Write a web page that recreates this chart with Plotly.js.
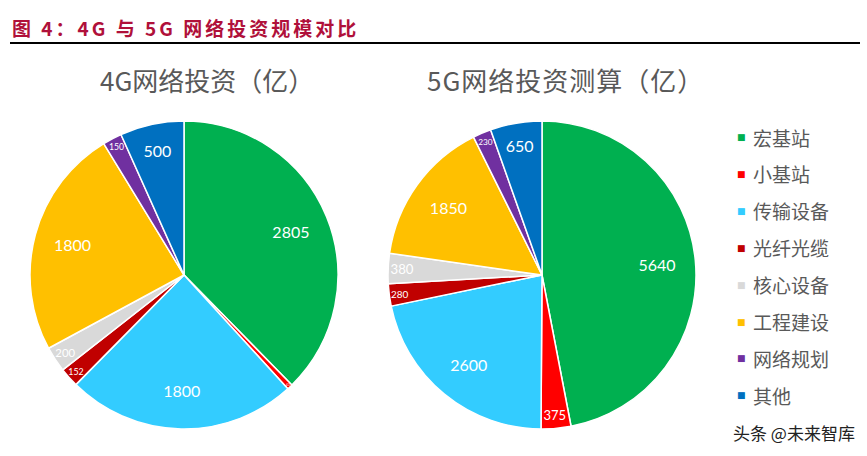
<!DOCTYPE html>
<html>
<head>
<meta charset="utf-8">
<script src="https://cdn.plot.ly/plotly-3.0.1.min.js"></script>
<style>html,body{margin:0;padding:0;background:#fff;}#chart{width:867px;height:456px;}</style>
</head>
<body>
<div id="chart"></div>
<script>
const categories = ['宏基站','小基站','传输设备','光纤光缆','核心设备','工程建设','网络规划','其他'];
const values4G = [2805, 43, 1800, 152, 200, 1800, 150, 500];
const values5G = [5640, 375, 2600, 280, 380, 1850, 230, 650];
const colors = ['#00B050','#FF0000','#33CCFF','#C00000','#D9D9D9','#FFC000','#7030A0','#0070C0'];
const pieTitles = ['4G网络投资（亿）','5G网络投资测算（亿）'];
const headerText = '图 4：4G 与 5G 网络投资规模对比';
const watermark = '头条 @未来智库';

const CJK = '"Noto Sans CJK SC", "Noto Sans", sans-serif';
const W = 867, H = 456;
const px = x => x / W, py = y => 1 - y / H;

function pie(vals, x0, x1) {
  return {
    type: 'pie', values: vals, labels: categories, sort: false, direction: 'clockwise', rotation: 0,
    marker: {colors: colors, line: {color: '#ffffff', width: 1.5}},
    textinfo: 'none',
    domain: {x: [px(x0), px(x1)], y: [py(429), py(121)]},
    showlegend: false, hoverinfo: 'label+value'
  };
}
function pieText(vals, x0, x1) {
  return {
    type: 'pie', values: vals, labels: categories, sort: false, direction: 'clockwise', rotation: 0, hole: 0.5,
    marker: {colors: categories.map(() => 'rgba(0,0,0,0)'), line: {width: 0}},
    textinfo: 'value', textposition: 'inside', insidetextorientation: 'horizontal',
    textfont: {color: '#ffffff', size: 16, family: 'Lato, "Open Sans", sans-serif'},
    domain: {x: [px(x0), px(x1)], y: [py(429), py(121)]},
    showlegend: false, hoverinfo: 'skip'
  };
}

const annotations = [];
annotations.push({xref:'paper', yref:'paper', x: px(10), y: py(28), xanchor:'left', yanchor:'middle', showarrow:false,
  text: '<b><span style="letter-spacing:3px">' + headerText + '</span></b>', font:{family: CJK, size: 19, color:'#B0103A'}});
annotations.push({xref:'paper', yref:'paper', x: px(207), y: py(79), xanchor:'center', yanchor:'middle', showarrow:false,
  text: pieTitles[0], font:{family: CJK, size: 26, color:'#595959'}});
annotations.push({xref:'paper', yref:'paper', x: px(565), y: py(79), xanchor:'center', yanchor:'middle', showarrow:false,
  text: '<span style="letter-spacing:1px">' + pieTitles[1] + '</span>', font:{family: CJK, size: 26, color:'#595959'}});
categories.forEach((c, i) => {
  const y = 137 + i * 36.9;
  annotations.push({xref:'paper', yref:'paper', x: px(741), y: py(y), xanchor:'center', yanchor:'middle', showarrow:false,
    text: '■', font:{family: 'DejaVu Sans', size: 9, color: colors[i]}});
  annotations.push({xref:'paper', yref:'paper', x: px(751), y: py(y), xanchor:'left', yanchor:'middle', showarrow:false,
    text: c, font:{family: CJK, size: 19, color:'#595959'}});
});
annotations.push({xref:'paper', yref:'paper', x: px(857), y: py(432), xanchor:'right', yanchor:'middle', showarrow:false,
  text: watermark, font:{family: CJK, size: 17, color:'#222222'}});

const layout = {
  width: W, height: H, margin: {l:0, r:0, t:0, b:0},
  paper_bgcolor: '#ffffff', plot_bgcolor: '#ffffff',
  annotations: annotations,
  shapes: [{type:'line', xref:'paper', yref:'paper', x0: px(10), x1: px(860), y0: py(43), y1: py(43), line:{color:'#000000', width:2}}]
};

Plotly.newPlot('chart', [pie(values4G, 30, 338), pie(values5G, 388, 696), pieText(values4G, 30, 338), pieText(values5G, 388, 696)], layout, {staticPlot: true});
</script>
</body>
</html>
